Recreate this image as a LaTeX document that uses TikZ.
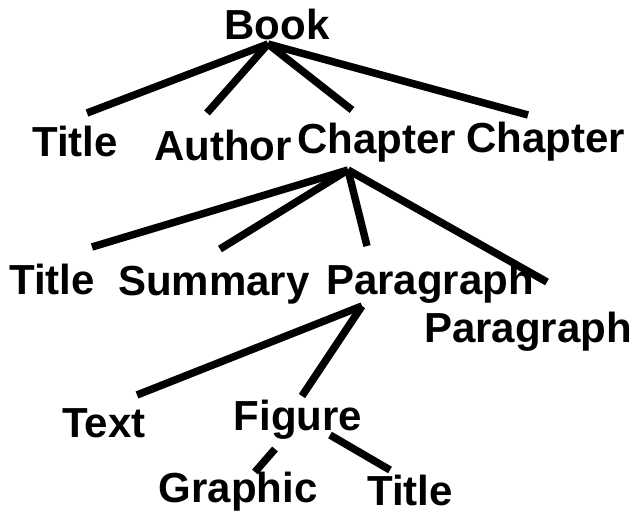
\documentclass[tikz,border=0pt]{standalone}
\usepackage{fontspec}
\newfontfamily\labelfont{Liberation Sans}
\begin{document}
\begin{tikzpicture}[x=1pt,y=-1pt,
  word/.style={anchor=base,inner sep=0pt,
    font=\labelfont\bfseries\fontsize{42}{44}\selectfont},
  edge/.style={line width=7.5pt,black}]
\useasboundingbox (0,0) rectangle (633,514);
\clip (0,0) rectangle (633,514);

% labels of the document tree
\node[word] (book)     at (277,39)  {Book};
\node[word] (title1)   at (75,156)  {Title};
\node[word] (author)   at (223,160) {Author};
\node[word] (chap1)    at (377,153) {Chapter};
\node[word] (chap2)    at (546,152) {Chapter};
\node[word] (title2)   at (52,294)  {Title};
\node[word] (summary)  at (214,295) {Summary};
\node[word] (para1)    at (430,294) {Paragraph};
\node[word,anchor=base west] (para2) at (424,342) {Paragraph};
\node[word] (text)     at (104,437) {Text};
\node[word] (figure)   at (298,430) {Figure};
\node[word] (graphic)  at (238,502) {Graphic};
\node[word] (title3)   at (410,505) {Title};

% branch points under parents and line ends above children
\coordinate (book-j)    at (268,44);
\coordinate (title1-j)  at (87,113);
\coordinate (author-j)  at (207,113);
\coordinate (chap1-top) at (352,110);
\coordinate (chap2-j)   at (528,115);
\coordinate (chap1-j)   at (348,170);
\coordinate (title2-j)  at (92,247);
\coordinate (summary-j) at (220,249);
\coordinate (para1-top) at (367,246);
\coordinate (para2-j)   at (547,282);
\coordinate (para1-j)   at (362,306);
\coordinate (text-j)    at (137,395);
\coordinate (figure-top) at (302,396);
\coordinate (fig-l)     at (275,449);
\coordinate (graphic-j) at (255,472);
\coordinate (fig-r)     at (330,435);
\coordinate (title3-j)  at (390,470);

% connectors
\draw[edge] (book-j) -- (title1-j);
\draw[edge] (book-j) -- (author-j);
\draw[edge] (book-j) -- (chap1-top);
\draw[edge] (book-j) -- (chap2-j);
\draw[edge] (chap1-j) -- (title2-j);
\draw[edge] (chap1-j) -- (summary-j);
\draw[edge] (chap1-j) -- (para1-top);
\draw[edge] (chap1-j) -- (para2-j);
\draw[edge] (para1-j) -- (text-j);
\draw[edge] (para1-j) -- (figure-top);
\draw[edge] (fig-l) -- (graphic-j);
\draw[edge] (fig-r) -- (title3-j);
\end{tikzpicture}
\end{document}
